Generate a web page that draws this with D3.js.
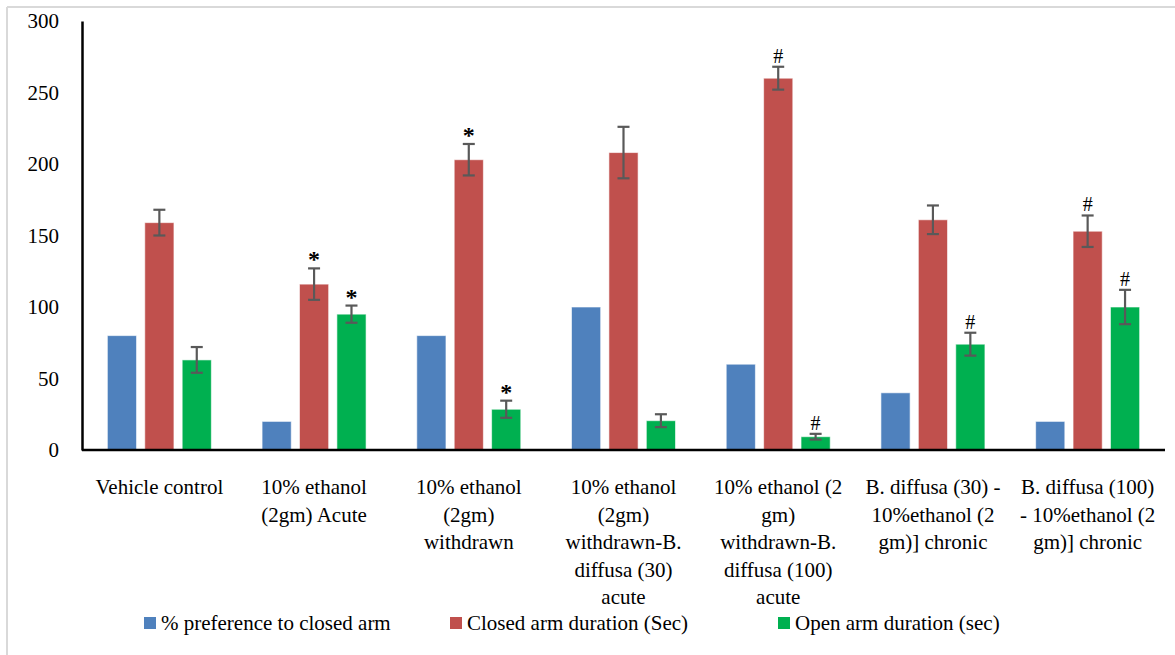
<!DOCTYPE html>
<html>
<head>
<meta charset="utf-8">
<script src="https://cdn.jsdelivr.net/npm/d3@7"></script>
<style>
  body { margin: 0; background: #fff; }
</style>
</head>
<body>
<svg id="chart" width="1175" height="655" font-family="Liberation Serif, Times New Roman, serif"></svg>
<script>
var categories = [
    ["Vehicle control"],
    ["10% ethanol", "(2gm) Acute"],
    ["10% ethanol", "(2gm)", "withdrawn"],
    ["10% ethanol", "(2gm)", "withdrawn-B.", "diffusa (30)", "acute"],
    ["10% ethanol (2", "gm)", "withdrawn-B.", "diffusa (100)", "acute"],
    ["B. diffusa (30) -", "10%ethanol (2", "gm)] chronic"],
    ["B. diffusa (100)", "- 10%ethanol (2", "gm)] chronic"]
];
var seriesNames = ["% preference to closed arm", "Closed arm duration (Sec)", "Open arm duration (sec)"];
var seriesColors = ["#4f81bd", "#c0504d", "#00b050"];

var preference = [80, 20, 80, 100, 60, 40, 20];
var closedArm = [159, 116, 203, 208, 260, 161, 153];
var closedErr = [9, 11, 11, 18, 8, 10, 11];
var openArm = [63, 95, 28.5, 20.5, 9.3, 74, 100];
var openErr = [9, 6, 6, 4.5, 2, 8, 12];
var closedMarks = ["", "*", "*", "", "#", "", "#"];
var openMarks = ["", "*", "*", "", "#", "#", "#"];
var yTicks = [0, 50, 100, 150, 200, 250, 300];

var serif = "Times New Roman, Liberation Serif, serif";

var margin = {top: 21, right: 10, bottom: 205, left: 82},
    width = 1165 - margin.left,
    height = 450 - margin.top;

var svg = d3.select("#chart");

// light frame like the exported chart area
svg.append("line").attr("x1", 7).attr("x2", 1175).attr("y1", 7).attr("y2", 7)
    .attr("stroke", "#d9d9d9").attr("stroke-width", 2);
svg.append("line").attr("x1", 7).attr("x2", 7).attr("y1", 7).attr("y2", 655)
    .attr("stroke", "#d9d9d9").attr("stroke-width", 2);

var g = svg.append("g")
    .attr("transform", "translate(" + margin.left + "," + margin.top + ")");

var x0 = d3.scaleBand()
    .domain(d3.range(categories.length))
    .range([0, width]);

var x1 = d3.scaleBand()
    .domain([0, 1, 2])
    .range([x0.bandwidth() / 2 - 52, x0.bandwidth() / 2 + 52])
    .paddingInner(0.22);

var y = d3.scaleLinear()
    .domain([0, 300])
    .range([height, 0]);

var rows = categories.map(function (c, i) {
    return [
        {s: 0, v: preference[i]},
        {s: 1, v: closedArm[i], e: closedErr[i], m: closedMarks[i]},
        {s: 2, v: openArm[i], e: openErr[i], m: openMarks[i]}
    ];
});

var groups = g.selectAll(".cat")
    .data(rows)
    .enter()
    .append("g")
    .attr("transform", function (d, i) { return "translate(" + x0(i) + ",0)"; });

var bars = groups.selectAll(".bar")
    .data(function (d) { return d; })
    .enter()
    .append("g");

bars.append("rect")
    .attr("x", function (d) { return x1(d.s); })
    .attr("y", function (d) { return y(d.v); })
    .attr("width", x1.bandwidth())
    .attr("height", function (d) { return height - y(d.v); })
    .attr("fill", function (d) { return seriesColors[d.s]; })
    .attr("stroke", "rgba(255,255,255,0.6)")
    .attr("stroke-width", 1);

var errs = bars.filter(function (d) { return d.e; });

errs.append("line")
    .attr("x1", function (d) { return x1(d.s) + x1.bandwidth() / 2; })
    .attr("x2", function (d) { return x1(d.s) + x1.bandwidth() / 2; })
    .attr("y1", function (d) { return y(d.v + d.e); })
    .attr("y2", function (d) { return y(d.v - d.e); })
    .attr("stroke", "#595959").attr("stroke-width", 2.2);

[1, -1].forEach(function (sign) {
    errs.append("line")
        .attr("x1", function (d) { return x1(d.s) + x1.bandwidth() / 2 - 6; })
        .attr("x2", function (d) { return x1(d.s) + x1.bandwidth() / 2 + 6; })
        .attr("y1", function (d) { return y(d.v + sign * d.e); })
        .attr("y2", function (d) { return y(d.v + sign * d.e); })
        .attr("stroke", "#595959").attr("stroke-width", 2.2);
});

bars.filter(function (d) { return d.m; })
    .append("text")
    .attr("x", function (d) { return x1(d.s) + x1.bandwidth() / 2; })
    .attr("y", function (d) { return y(d.v + d.e) - (d.m === "*" ? 1 : 4); })
    .attr("text-anchor", "middle")
    .attr("font-size", function (d) { return d.m === "*" ? 24 : 20; })
    .attr("font-weight", function (d) { return d.m === "*" ? "bold" : "normal"; })
    .attr("fill", "#000")
    .attr("font-family", serif)
    .text(function (d) { return d.m; });

// y axis
var yAxis = g.append("g")
    .call(d3.axisLeft(y).tickValues(yTicks).tickSize(0).tickPadding(23))
    .attr("font-family", serif)
    .attr("font-size", 21);
yAxis.select(".domain").attr("stroke", "#000").attr("stroke-width", 2.5);
yAxis.selectAll("text").attr("fill", "#000");

// x axis baseline
g.append("line")
    .attr("x1", 0).attr("x2", width)
    .attr("y1", height).attr("y2", height)
    .attr("stroke", "#000").attr("stroke-width", 2.5);

// category labels
var labels = g.selectAll(".lab")
    .data(categories)
    .enter()
    .append("text")
    .attr("text-anchor", "middle")
    .attr("font-size", 21)
    .attr("fill", "#000")
    .attr("font-family", serif)
    .attr("transform", function (d, i) {
        return "translate(" + (x0(i) + x0.bandwidth() / 2) + "," + (height + 44) + ")";
    });

labels.selectAll("tspan")
    .data(function (d) { return d; })
    .enter()
    .append("tspan")
    .attr("x", 0)
    .attr("y", function (d, i) { return i * 27.5; })
    .text(function (d) { return d; });

// legend
var legendX = [144, 450, 778];
var legend = svg.append("g").attr("transform", "translate(0,623)");
var items = legend.selectAll(".leg")
    .data(seriesNames)
    .enter()
    .append("g")
    .attr("transform", function (d, i) { return "translate(" + legendX[i] + ",0)"; });
items.append("rect")
    .attr("x", 0).attr("y", -6)
    .attr("width", 12).attr("height", 12)
    .attr("fill", function (d, i) { return seriesColors[i]; });
items.append("text")
    .attr("x", 17).attr("y", 7)
    .attr("font-size", 21)
    .attr("fill", "#000")
    .attr("font-family", serif)
    .text(function (d) { return d; });
</script>
</body>
</html>
